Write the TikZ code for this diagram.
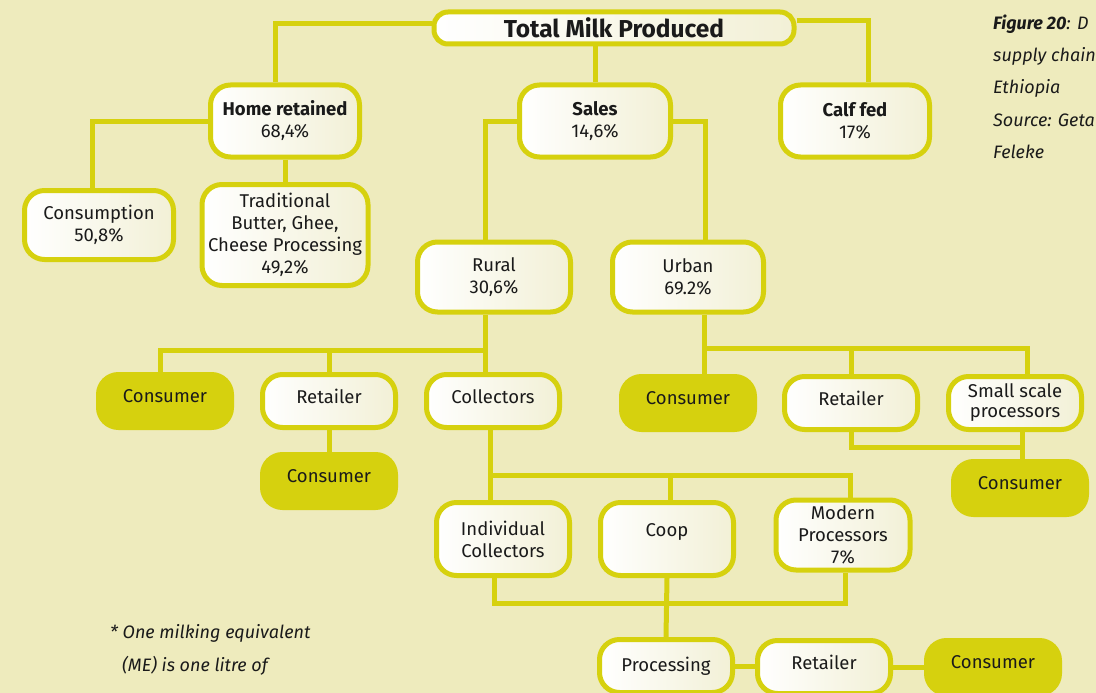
\documentclass[tikz,border=0pt]{standalone}
\usepackage{fontspec}
\setmainfont{Fira Sans}
\usepackage{tikz}
\usetikzlibrary{calc}

\definecolor{bgcol}{HTML}{EEEBBD}
\definecolor{ylw}{HTML}{D6D10E}
\definecolor{cream}{HTML}{F2F0D6}
\definecolor{ink}{HTML}{1A1A1A}

\newcommand{\boxfont}{\fontsize{18.5}{22}\selectfont}
\newcommand{\capfont}{\fontsize{18}{20}\selectfont\itshape}

\tikzset{
  box/.style={draw=ylw, line width=5pt, rounded corners=20pt,
              left color=white, right color=cream, text=ink,
              align=center, inner sep=2pt, font=\boxfont,
              minimum width=133pt, minimum height=53pt},
  sink/.style={box, left color=ylw, right color=ylw},
  lifted/.style={text depth=#1},
  link/.style={draw=ylw, line width=5pt},
  caption/.style={anchor=base west, inner sep=0pt, text=ink, font=\capfont}
}

\begin{document}
\begin{tikzpicture}[x=1pt,y=-1pt]
    % Define page and background
    \useasboundingbox (0,0) rectangle (1096,693);
    \clip (0,0) rectangle (1096,693);
    \fill[bgcol] (0,0) rectangle (1096,693);

    % Draw top level
    \node[box, minimum width=360pt, minimum height=32pt, rounded corners=14pt,
          font=\fontsize{24.5}{26}\selectfont\bfseries] (total) at (614,28) {Total Milk Produced};
    \node[box, minimum width=149pt, minimum height=72pt] (home) at (285,121) {\textbf{Home retained}\\68,4\%};
    \node[box, minimum width=151pt, minimum height=72pt] (sales) at (595,121) {\textbf{Sales}\\14,6\%};
    \node[box, minimum width=149pt, minimum height=72pt] (calf) at (855,121) {\textbf{Calf fed}\\17\%};

    % Draw home retained branch
    \node[box, minimum width=149pt, minimum height=69pt] (consumption) at (99,225) {Consumption\\50,8\%};
    \node[box, minimum width=166pt, minimum height=101pt] (trad) at (285,235)
         {Traditional\\Butter, Ghee,\\Cheese Processing\\49,2\%};

    % Draw sales branch
    \node[box, minimum width=153pt, minimum height=70pt] (rural) at (494,277) {Rural\\30,6\%};
    \node[box, minimum width=151pt, minimum height=70pt] (urban) at (688,277) {Urban\\69.2\%};

    % Rural outlets
    \node[sink, lifted=9pt] (cons1) at (165,401) {Consumer};
    \node[box, lifted=9pt] (ret1) at (329,401) {Retailer};
    \node[box, lifted=9pt] (collect) at (493,401) {Collectors};
    \node[sink, lifted=9pt] (cons3) at (329,481) {Consumer};

    % Urban outlets
    \node[sink, lifted=9pt] (cons2) at (688,403) {Consumer};
    \node[box, lifted=9pt] (ret2) at (851,403) {Retailer};
    \node[box, font=\fontsize{18.5}{20}\selectfont] (small) at (1015,403) {Small scale\\processors};
    \node[sink, lifted=9pt] (cons4) at (1020,488) {Consumer};

    % Collector types
    \node[box, minimum height=73pt] (indiv) at (503,539) {Individual\\Collectors};
    \node[box, minimum height=73pt, lifted=18pt] (coop) at (667,539) {Coop};
    \node[box, minimum width=134pt, minimum height=70pt] (modern) at (843,535) {Modern\\Processors\\7\%};

    % Processing chain
    \node[box] (proc) at (666,666) {Processing};
    \node[box, lifted=9pt] (ret3) at (824,667) {Retailer};
    \node[sink, lifted=9pt] (cons5) at (993,667) {Consumer};

    % Connect top level
    \draw[link] ([yshift=4]total.west) -| ([xshift=-10]home.north);
    \draw[link] (total.south -| sales.north) -- (sales.north);
    \draw[link] ([yshift=7]total.east) -| ([xshift=13]calf.north);
    \draw[link] (home.west) -| ([xshift=-7]consumption.north);
    \draw[link] (home.south) -- (trad.north);
    \draw[link] (sales.west) -| ([xshift=-9]rural.north);
    \draw[link] (sales.east) -| ([xshift=17]urban.north);

    % Connect rural
    \coordinate (rbus) at (485,350);
    \draw[link] ([xshift=-9]rural.south) -- ([xshift=-8]collect.north);
    \draw[link] ([xshift=-5]cons1.north) |- (rbus);
    \draw[link] (ret1.north) -- (ret1.north |- rbus);
    \draw[link] (ret1.south) -- (cons3.north);

    % Connect urban
    \coordinate (ubus) at (704,348);
    \draw[link] ([xshift=16]urban.south) -- ([xshift=16]cons2.north);
    \draw[link] (ubus) -| ([xshift=12]small.north);
    \draw[link] (ret2.north) -- (ret2.north |- ubus);
    \draw[link] (ret2.south) |- (1024.5,447);
    \draw[link] ([xshift=7]small.south) -- ([xshift=2]cons4.north);

    % Connect collectors
    \coordinate (cbus) at (490,475);
    \draw[link] ([xshift=-3]collect.south) -- ([xshift=-13]indiv.north);
    \draw[link] (cbus) -| ([xshift=7]modern.north);
    \draw[link] ([xshift=3]coop.north) -- ([xshift=3]coop.north |- cbus);

    % Connect processing
    \coordinate (pbus) at (0,603);
    \draw[link] ([xshift=-9]indiv.south) |- ([xshift=2]pbus -| modern.south) -- ([xshift=2]modern.south);
    \draw[link] (coop.south) -- (proc.north);
    \draw[link] (proc.east) -- (proc.east -| ret3.west);
    \draw[link] (ret3.east) -- (ret3.east -| cons5.west);

    % Caption
    \node[caption] (cap1) at (993,30) {\textbf{Figure 20}: D};
    \node[caption] (cap2) at (993,62) {supply chain};
    \node[caption] (cap3) at (993,94) {Ethiopia};
    \node[caption] (cap4) at (993,126) {Source: Geta};
    \node[caption] (cap5) at (993,158) {Feleke};

    % Footnote
    \node[caption] (note1) at (110,638) {* One milking equivalent};
    \node[caption] (note2) at (122,671) {(ME) is one litre of};

\end{tikzpicture}
\end{document}
